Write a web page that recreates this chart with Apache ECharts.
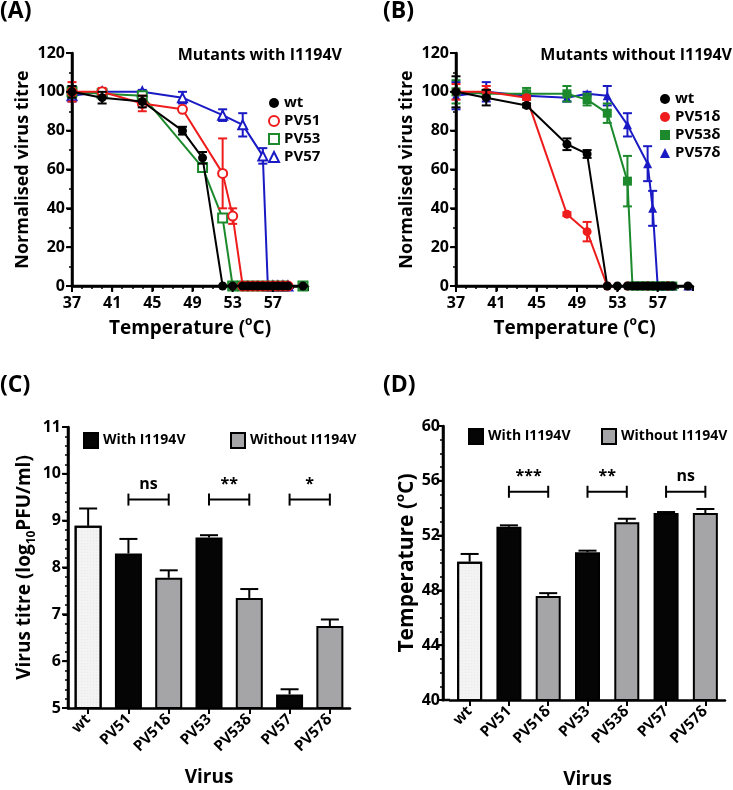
<!DOCTYPE html>
<html>
<head>
<meta charset="utf-8">
<script src="https://cdn.jsdelivr.net/npm/echarts@6/dist/echarts.min.js"></script>
<style>
  html, body { margin: 0; padding: 0; background: #fff; }
  #chart { width: 733px; height: 790px; }
</style>
</head>
<body>
<div id="chart"></div>
<script>
// panel A - mutants with I1194V (temperature, value, error)
const wtA_t = [37, 40, 44, 48, 50, 52, 53, 54, 54.5, 55, 55.5, 56, 56.5, 57, 57.5, 58, 58.5, 60];
const wtA_v = [100, 97, 95, 80, 66, 0, 0, 0, 0, 0, 0, 0, 0, 0, 0, 0, 0, 0];
const wtA_e = [3, 3, 3, 2, 3, 0, 0, 0, 0, 0, 0, 0, 0, 0, 0, 0, 0, 0];
const pv51_t = [37, 40, 44, 48, 52, 53, 54, 54.5, 55, 55.5, 56, 56.5, 57, 57.5, 58, 58.5];
const pv51_v = [100, 100, 94, 91, 58, 36, 0, 0, 0, 0, 0, 0, 0, 0, 0, 0];
const pv51_e = [5, 2, 4, 1, 18, 4, 0, 0, 0, 0, 0, 0, 0, 0, 0, 0];
const pv53_t = [37, 40, 44, 50, 52, 53, 54, 55, 56, 57, 58, 60];
const pv53_v = [100, 99, 98, 61, 35, 0, 0, 0, 0, 0, 0, 0];
const pv53_e = [3, 1, 2, 2, 1, 0, 0, 0, 0, 0, 0, 0];
const pv57_t = [37, 40, 44, 48, 52, 54, 56, 56.5, 57, 57.5, 58, 58.5];
const pv57_v = [98, 100, 100, 97, 88, 83, 67, 0, 0, 0, 0, 0];
const pv57_e = [3, 1, 1, 3, 3, 6, 4, 0, 0, 0, 0, 0];

// panel B - mutants without I1194V
const wtB_t = [37, 40, 44, 48, 50, 52, 53, 54, 54.5, 55, 55.5, 56, 56.5, 57, 57.5, 58, 58.5, 60];
const wtB_v = [100, 97, 93, 73, 68, 0, 0, 0, 0, 0, 0, 0, 0, 0, 0, 0, 0, 0];
const wtB_e = [8, 4, 1, 3, 2, 0, 0, 0, 0, 0, 0, 0, 0, 0, 0, 0, 0, 0];
const d51_t = [37, 40, 44, 48, 50, 52, 54, 56, 58];
const d51_v = [100, 100, 97, 37, 28, 0, 0, 0, 0];
const d51_e = [4, 3, 1, 1, 5, 0, 0, 0, 0];
const d53_t = [37, 40, 44, 48, 50, 52, 54, 54.5, 55, 55.5, 56, 56.5, 57, 57.5, 58, 58.5];
const d53_v = [100, 99, 99, 99, 96, 89, 54, 0, 0, 0, 0, 0, 0, 0, 0, 0];
const d53_e = [6, 2, 3, 4, 3, 5, 13, 0, 0, 0, 0, 0, 0, 0, 0, 0];
const d57_t = [37, 40, 44, 48, 50, 52, 54, 56, 56.5, 57, 57.5, 58, 58.5, 60];
const d57_v = [98, 100, 98, 97, 99, 98, 83, 63, 40, 0, 0, 0, 0, 0];
const d57_e = [7, 5, 1, 2, 1, 5, 6, 9, 9, 0, 0, 0, 0, 0];

// panels C and D
const categories = ['wt', 'PV51', 'PV51δ', 'PV53', 'PV53δ', 'PV57', 'PV57δ'];
const groups = ['wt', 'with', 'without', 'with', 'without', 'with', 'without'];
const titre = [8.89, 8.30, 7.78, 8.64, 7.35, 5.29, 6.75];
const titreErr = [0.37, 0.31, 0.16, 0.05, 0.19, 0.11, 0.14];
const tm = [50.1, 52.65, 47.6, 50.78, 52.97, 53.65, 53.65];
const tmErr = [0.56, 0.1, 0.2, 0.12, 0.26, 0.07, 0.29];
const bracketsC = [[1, 2, 9.45, 'ns'], [3, 4, 9.45, '**'], [5, 6, 9.45, '*']];
const bracketsD = [[1, 2, 55.2, '***'], [3, 4, 55.2, '**'], [5, 6, 55.2, 'ns']];

// tick values
const tempTicks = [37, 41, 45, 49, 53, 57];
const normTicks = [0, 20, 40, 60, 80, 100, 120];
const titreTicks = [5, 6, 7, 8, 9, 10, 11];
const tmTicks = [40, 44, 48, 52, 56, 60];

const FONT = 'Open Sans';
const RED = '#ee1c1c', GREEN = '#1c8a2c', BLUE = '#1a1ac4';

const zip = (t, v, e) => t.map((x, i) => e ? [x, v[i], e[i]] : [x, v[i]]);

function errRender(color, both, capW) {
  return function (params, api) {
    const x = api.value(0), y = api.value(1), e = api.value(2);
    if (!e) return;
    const top = api.coord([x, y + e]);
    const bot = api.coord([x, both ? y - e : y]);
    const style = { stroke: color, lineWidth: 2 };
    const kids = [
      { type: 'line', shape: { x1: top[0], y1: top[1], x2: bot[0], y2: bot[1] }, style },
      { type: 'line', shape: { x1: top[0] - capW / 2, y1: top[1], x2: top[0] + capW / 2, y2: top[1] }, style }
    ];
    if (both) kids.push({ type: 'line', shape: { x1: bot[0] - capW / 2, y1: bot[1], x2: bot[0] + capW / 2, y2: bot[1] }, style });
    return { type: 'group', children: kids };
  };
}

function bracketRender(params, api) {
  const a = api.coord([api.value(0), api.value(2)]);
  const b = api.coord([api.value(1), api.value(2)]);
  const style = { stroke: '#000', lineWidth: 2 };
  return {
    type: 'group',
    children: [
      { type: 'line', shape: { x1: a[0], y1: a[1], x2: b[0], y2: b[1] }, style },
      { type: 'line', shape: { x1: a[0], y1: a[1] - 6, x2: a[0], y2: a[1] + 6 }, style },
      { type: 'line', shape: { x1: b[0], y1: b[1] - 6, x2: b[0], y2: b[1] + 6 }, style },
      { type: 'text', style: { text: api.value(3), x: (a[0] + b[0]) / 2, y: a[1] - 15, align: 'center', verticalAlign: 'middle', font: 'bold 16px ' + FONT, fill: '#000' } }
    ]
  };
}

const mkLine = () => ({ show: true, onZero: false, lineStyle: { color: '#000', width: 2.5 } });
const mkTick = (len) => ({ show: true, length: len || 5, lineStyle: { color: '#000', width: 2 } });
const minorTick = (n) => ({ show: true, splitNumber: n, length: 3, lineStyle: { color: '#000', width: 1.5 } });
const lbl = (size) => ({ color: '#000', fontFamily: FONT, fontWeight: 'bold', fontSize: size });

function tempAxis(idx) {
  return {
    type: 'value', gridIndex: idx, min: 37, max: 60.5, interval: 4,
    axisLine: mkLine(), axisTick: mkTick(), minorTick: minorTick(4), splitLine: { show: false },
    axisLabel: Object.assign(lbl(16), { margin: 9, showMaxLabel: false }),
    name: '{n|Temperature (}{s|o}{n|C)}', nameLocation: 'middle', nameGap: 30,
    nameTextStyle: { rich: { n: Object.assign(lbl(19), { lineHeight: 26 }), s: Object.assign(lbl(12), { verticalAlign: 'top', lineHeight: 12 }) } }
  };
}
function normAxis(idx) {
  return {
    type: 'value', gridIndex: idx, min: 0, max: 120, interval: 20,
    axisLine: mkLine(), axisTick: mkTick(), minorTick: minorTick(2), splitLine: { show: false },
    axisLabel: Object.assign(lbl(16), { margin: 7 }),
    name: 'Normalised virus titre', nameLocation: 'middle', nameGap: 40, nameRotate: 90,
    nameTextStyle: lbl(18)
  };
}
function catAxis(idx, gap) {
  return {
    type: 'category', gridIndex: idx, data: categories,
    axisLine: mkLine(), axisTick: Object.assign({ alignWithLabel: true }, mkTick(6)),
    axisLabel: Object.assign(lbl(15), { rotate: 45, margin: 9 }),
    name: 'Virus', nameLocation: 'middle', nameGap: gap, nameTextStyle: lbl(19)
  };
}

function lineSeries(name, t, v, xi, color, symbol, z) {
  return {
    type: 'line', name, xAxisIndex: xi, yAxisIndex: xi, data: zip(t, v),
    symbol, symbolSize: 9, z,
    lineStyle: { color, width: 2 }, itemStyle: { color, borderWidth: 1.5 }
  };
}
function errSeries(t, v, e, xi, color, z) {
  return {
    type: 'custom', name: 'err', xAxisIndex: xi, yAxisIndex: xi, z,
    data: zip(t, v, e), renderItem: errRender(color, true, 9), encode: { x: 0, y: 1 }
  };
}

const fills = {
  wt: { color: '#f3f3f3', decal: { symbol: 'circle', symbolSize: 0.6, color: 'rgba(0,0,0,0.18)', dashArrayX: [[1, 2]], dashArrayY: [1, 2] } },
  with: { color: '#050505' },
  without: { color: '#a5a5a8' }
};
function barSeries(name, key, vals, xi, width) {
  return {
    type: 'bar', name, xAxisIndex: xi, yAxisIndex: xi, barWidth: width, barGap: '-100%',
    data: vals.map((v, i) => groups[i] === key ? v : '-'),
    itemStyle: Object.assign({ borderColor: '#000', borderWidth: 2 }, fills[key])
  };
}

const legA = { orient: 'vertical', itemGap: 2, itemWidth: 10, itemHeight: 10, padding: 0, textStyle: Object.assign(lbl(15), { lineHeight: 16 }) };
const legC = { itemWidth: 14, itemHeight: 15, padding: 0, textStyle: lbl(14) };

const chart = echarts.init(document.getElementById('chart'));
chart.setOption({
  animation: false,
  backgroundColor: '#fff',
  title: [
    { text: '(A)', left: 0, top: 0, padding: 0, textStyle: lbl(23) },
    { text: '(B)', left: 383, top: 0, padding: 0, textStyle: lbl(23) },
    { text: '(C)', left: 0, top: 374, padding: 0, textStyle: lbl(23) },
    { text: '(D)', left: 383, top: 374, padding: 0, textStyle: lbl(23) },
    { text: 'Mutants with I1194V', right: 391, top: 47, padding: 0, textStyle: lbl(16) },
    { text: 'Mutants without I1194V', right: 1, top: 47, padding: 0, textStyle: lbl(16) }
  ],
  legend: [
    Object.assign({
      left: 268, top: 95,
      data: [{ name: 'wt', icon: 'circle' }, { name: 'PV51', icon: 'emptyCircle' }, { name: 'PV53', icon: 'emptyRect' }, { name: 'PV57', icon: 'emptyTriangle' }]
    }, legA),
    Object.assign({
      left: 660, top: 91,
      data: [{ name: 'wt', icon: 'circle' }, { name: 'PV51δ', icon: 'circle' }, { name: 'PV53δ', icon: 'rect' }, { name: 'PV57δ', icon: 'triangle' }]
    }, legA),
    Object.assign({ left: 83, top: 432, data: [{ name: 'With I1194V', icon: 'rect' }] }, legC),
    Object.assign({ left: 230, top: 432, data: [{ name: 'Without I1194V', icon: 'rect' }] }, legC),
    Object.assign({ left: 468, top: 428, data: [{ name: 'With I1194V', icon: 'rect' }] }, legC),
    Object.assign({ left: 601, top: 428, data: [{ name: 'Without I1194V', icon: 'rect' }] }, legC)
  ],
  grid: [
    { left: 72, top: 53, width: 236, height: 233 },
    { left: 456, top: 53, width: 237, height: 233 },
    { left: 68, top: 427, width: 282, height: 281 },
    { left: 450, top: 426, width: 275, height: 274 }
  ],
  xAxis: [tempAxis(0), tempAxis(1), catAxis(2, 60), catAxis(3, 70)],
  yAxis: [
    normAxis(0), normAxis(1),
    {
      type: 'value', gridIndex: 2, min: 5, max: 11, interval: 1,
      axisLine: mkLine(), axisTick: mkTick(), minorTick: minorTick(5), splitLine: { show: false },
      axisLabel: Object.assign(lbl(16), { margin: 7 }),
      name: '{n|Virus titre (log}{s|10}{n|PFU/ml)}', nameLocation: 'middle', nameGap: 30, nameRotate: 90,
      nameTextStyle: { rich: { n: Object.assign(lbl(19), { lineHeight: 26 }), s: Object.assign(lbl(12), { verticalAlign: 'bottom', lineHeight: 12 }) } }
    },
    {
      type: 'value', gridIndex: 3, min: 40, max: 60, interval: 4, offset: 7,
      axisLine: mkLine(), axisTick: mkTick(), minorTick: minorTick(4), splitLine: { show: false },
      axisLabel: Object.assign(lbl(16), { margin: 3 }),
      name: '{n|Temperature (}{s|o}{n|C)}', nameLocation: 'middle', nameGap: 20, nameRotate: 90,
      nameTextStyle: { rich: { n: Object.assign(lbl(21), { lineHeight: 28 }), s: Object.assign(lbl(13), { verticalAlign: 'top', lineHeight: 13 }) } }
    }
  ],
  series: [
    // A
    lineSeries('PV57', pv57_t, pv57_v, 0, BLUE, 'emptyTriangle', 2),
    errSeries(pv57_t, pv57_v, pv57_e, 0, BLUE, 2),
    lineSeries('PV53', pv53_t, pv53_v, 0, GREEN, 'emptyRect', 3),
    errSeries(pv53_t, pv53_v, pv53_e, 0, GREEN, 3),
    lineSeries('PV51', pv51_t, pv51_v, 0, RED, 'emptyCircle', 4),
    errSeries(pv51_t, pv51_v, pv51_e, 0, RED, 4),
    lineSeries('wt', wtA_t, wtA_v, 0, '#000', 'circle', 5),
    errSeries(wtA_t, wtA_v, wtA_e, 0, '#000', 5),
    // B
    lineSeries('PV57δ', d57_t, d57_v, 1, BLUE, 'triangle', 2),
    errSeries(d57_t, d57_v, d57_e, 1, BLUE, 2),
    lineSeries('PV53δ', d53_t, d53_v, 1, GREEN, 'rect', 3),
    errSeries(d53_t, d53_v, d53_e, 1, GREEN, 3),
    lineSeries('PV51δ', d51_t, d51_v, 1, RED, 'circle', 4),
    errSeries(d51_t, d51_v, d51_e, 1, RED, 4),
    lineSeries('wt', wtB_t, wtB_v, 1, '#000', 'circle', 5),
    errSeries(wtB_t, wtB_v, wtB_e, 1, '#000', 5),
    // C
    barSeries('wtBarC', 'wt', titre, 2, 27),
    barSeries('With I1194V', 'with', titre, 2, 27),
    barSeries('Without I1194V', 'without', titre, 2, 27),
    {
      type: 'custom', name: 'errC', xAxisIndex: 2, yAxisIndex: 2, z: 6,
      data: titre.map((v, i) => [i, v, titreErr[i]]), renderItem: errRender('#000', false, 18), encode: { x: 0, y: 1 }
    },
    {
      type: 'custom', name: 'sigC', xAxisIndex: 2, yAxisIndex: 2, z: 6,
      data: bracketsC, renderItem: bracketRender, encode: { x: 0, y: 2 }
    },
    // D
    barSeries('wtBarD', 'wt', tm, 3, 25),
    barSeries('With I1194V', 'with', tm, 3, 25),
    barSeries('Without I1194V', 'without', tm, 3, 25),
    {
      type: 'custom', name: 'errD', xAxisIndex: 3, yAxisIndex: 3, z: 6,
      data: tm.map((v, i) => [i, v, tmErr[i]]), renderItem: errRender('#000', false, 18), encode: { x: 0, y: 1 }
    },
    {
      type: 'custom', name: 'sigD', xAxisIndex: 3, yAxisIndex: 3, z: 6,
      data: bracketsD, renderItem: bracketRender, encode: { x: 0, y: 2 }
    }
  ]
});

// axis frames drawn as filled rects, placed from the chart's own scales
const frame = [];
const vbar = (x, y1, y2, w) => frame.push({ type: 'rect', silent: true, z: 100, shape: { x: x - w / 2, y: Math.min(y1, y2), width: w, height: Math.abs(y2 - y1) }, style: { fill: '#000' } });
const hbar = (x1, x2, y, w) => frame.push({ type: 'rect', silent: true, z: 100, shape: { x: Math.min(x1, x2), y: y - w / 2, width: Math.abs(x2 - x1), height: w }, style: { fill: '#000' } });
const px = (gi, p) => chart.convertToPixel({ gridIndex: gi }, p);

[0, 1].forEach((gi) => {
  const o = px(gi, [37, 0]), xe = px(gi, [60.5, 0]), yt = px(gi, [37, 120]);
  vbar(o[0], yt[1], o[1] + 1.25, 2.5);
  hbar(o[0] - 1.25, xe[0], o[1], 2.5);
  normTicks.forEach((v) => { const p = px(gi, [37, v]); hbar(p[0] - 6, p[0], p[1], 2); });
  tempTicks.forEach((t) => { const p = px(gi, [t, 0]); vbar(p[0], p[1], p[1] + 6, 2); });
});
[[2, 5, 11, titreTicks, 0], [3, 40, 60, tmTicks, 7]].forEach(([gi, lo, hi, ticks, off]) => {
  const c0 = px(gi, [0, lo]), c1 = px(gi, [1, lo]), top = px(gi, [0, hi]);
  const x = c0[0] - (c1[0] - c0[0]) / 2 - off;
  vbar(x, top[1], c0[1] + 1.25, 2.5);
  if (off) hbar(x - 1.25, x + off, c0[1], 2.5);
  ticks.forEach((v) => { const p = px(gi, [0, v]); hbar(x - 6, x, p[1], 2); });
});
chart.setOption({ graphic: { elements: frame } });
</script>
</body>
</html>
